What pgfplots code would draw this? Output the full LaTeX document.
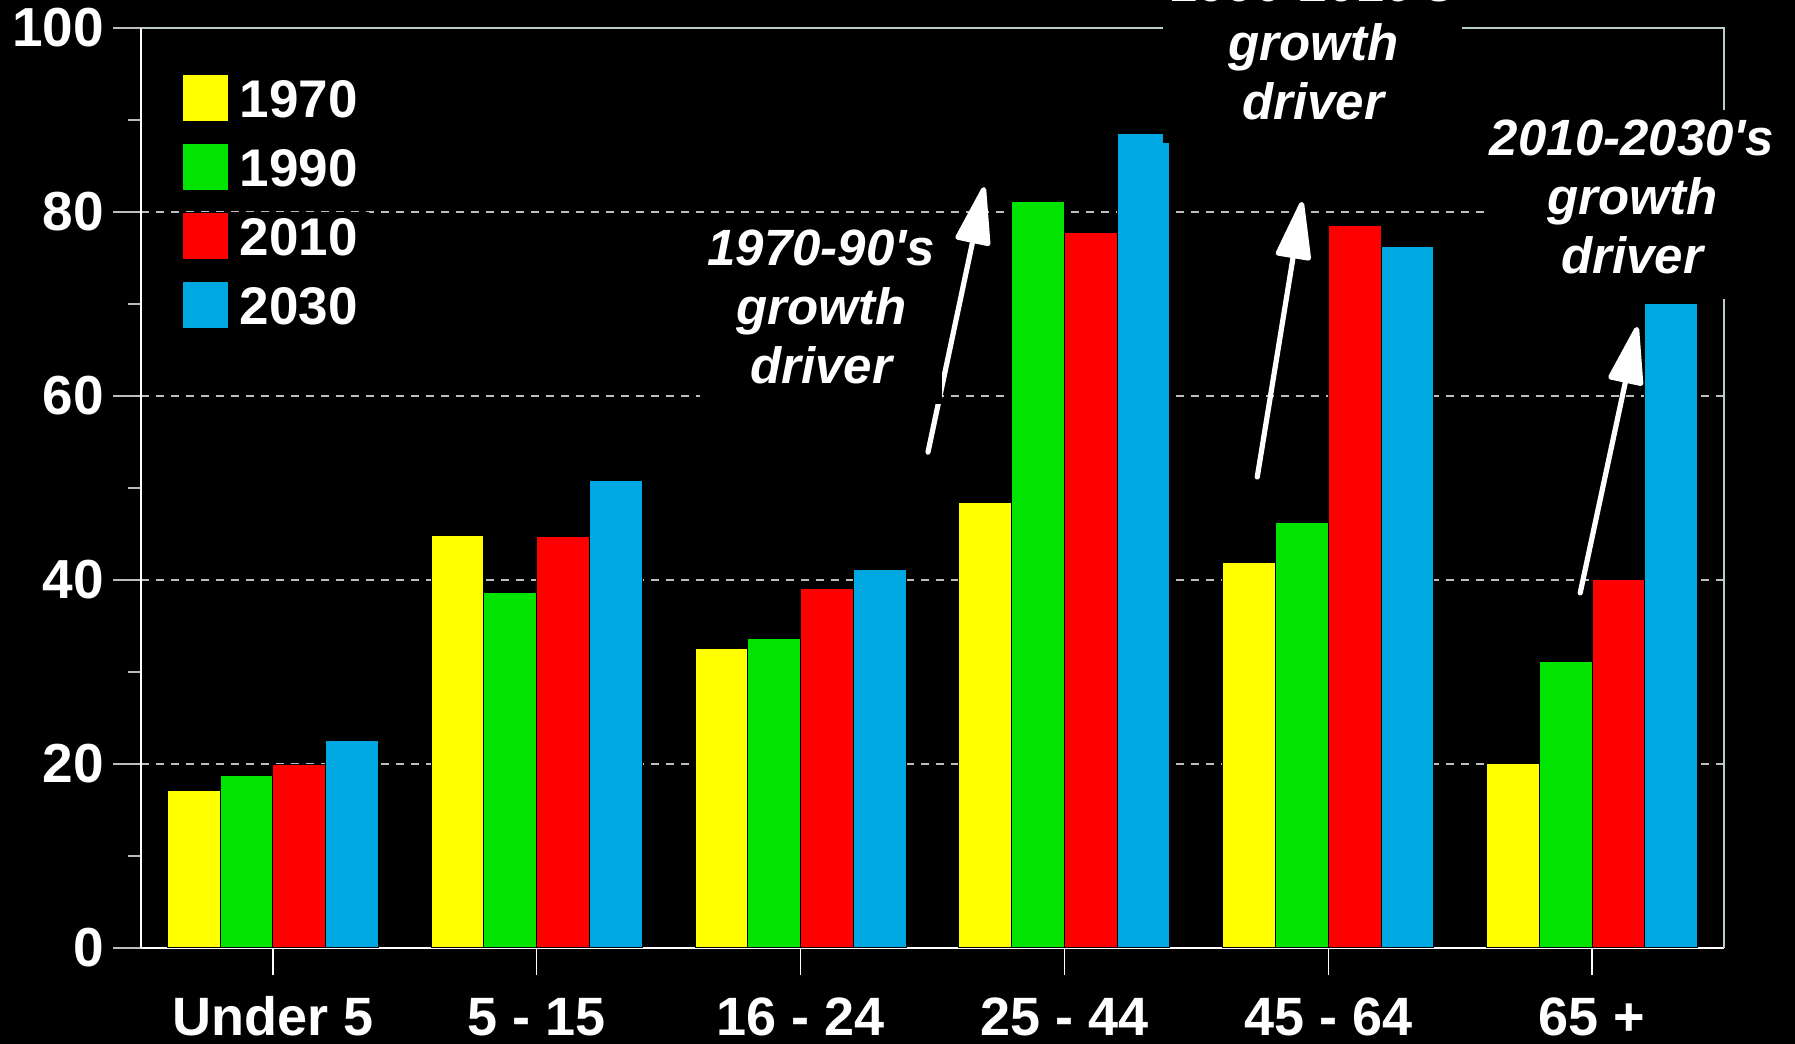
\documentclass[border=0pt]{standalone}
\usepackage{fontspec}
\setmainfont{Liberation Sans}
\usepackage{pgfplots}
\pgfplotsset{compat=1.18}
\usepackage{pgfplotstable}
\usetikzlibrary{arrows.meta}

\definecolor{barYellow}{HTML}{FFFF00}
\definecolor{barGreen}{HTML}{00E400}
\definecolor{barRed}{HTML}{FF0000}
\definecolor{barBlue}{HTML}{00A8E2}
\definecolor{gridGray}{HTML}{BDBDBD}
\definecolor{frameGray}{HTML}{B8CCCC}

% population by age group (millions)
\pgfplotstableread{
idx y1970 y1990 y2010 y2030
0 17.1 18.8 19.9 22.5
1 44.8 38.6 44.7 50.8
2 32.5 33.6 39.1 41.1
3 48.4 81.1 77.8 88.5
4 41.9 46.2 78.5 76.3
5 20.0 31.1 40.0 70.1
}\agegroups

\newcommand{\lbl}{\fontsize{26.5}{30}\selectfont\bfseries}
\newcommand{\ylbl}{\fontsize{27.5}{30}\selectfont\bfseries}
\newcommand{\xlbl}{\fontsize{27}{30}\selectfont\bfseries}
\newcommand{\note}{\fontsize{25.5}{29.5}\selectfont\bfseries\itshape}

\begin{document}
\begin{tikzpicture}
\fill[black] (-70.5pt,-48pt) rectangle (827pt,474pt);
\begin{axis}[
  at={(0pt,0pt)}, anchor=south west,
  scale only axis, width=791.5pt, height=460pt,
  xmin=-0.5, xmax=5.5, ymin=0, ymax=100,
  ybar=0pt, bar width=26.38pt,
  axis lines=left, axis line style={-, white, line width=0.7pt},
  clip=false,
  xtick={0,...,5},
  xticklabels={Under 5, 5 - 15, 16 - 24, 25 - 44, 45 - 64, 65 +},
  ytick={0,20,...,100}, minor ytick={10,30,...,90},
  tick align=outside, major tick length=13.75pt, minor tick length=6.5pt,
  x tick style={white, line width=0.6pt},
  y tick style={gridGray, line width=0.6pt},
  ymajorgrids, major grid style={gridGray, line width=0.8pt, dash pattern=on 4pt off 3.5pt},
  /pgf/number format/assume math mode=true,
  xticklabel style={font=\xlbl, text=white, anchor=base, yshift=-30pt},
  yticklabel style={font=\ylbl, text=white, anchor=east, inner sep=0pt, xshift=-4.5pt},
  legend style={at={(0,1)}, anchor=north west, xshift=20.5pt, yshift=-23pt,
    draw=none, fill=none, inner sep=0pt, outer sep=0pt, row sep=10.5pt, column sep=0pt,
    nodes={fill=black, text=white, font=\lbl, inner xsep=5.5pt, inner ysep=0pt,
      text height=21.5pt, text depth=2pt}},
  legend cell align=left,
  legend image code/.code={\draw[#1, line width=0.5pt] (0pt,-11.75pt) rectangle (23pt,11.75pt);},
]
\addplot[fill=barYellow, draw=black, line width=0.5pt] table[x=idx, y=y1970] {\agegroups};
\addplot[fill=barGreen, draw=black, line width=0.5pt] table[x=idx, y=y1990] {\agegroups};
\addplot[fill=barRed, draw=black, line width=0.5pt] table[x=idx, y=y2010] {\agegroups};
\addplot[fill=barBlue, draw=black, line width=0.5pt] table[x=idx, y=y2030] {\agegroups};
\legend{1970,1990,2010,2030}

% frame on the top and right
\draw[frameGray, line width=0.6pt] (rel axis cs:0,1) -- (rel axis cs:1,1) -- (rel axis cs:1,0);

% growth arrows
\draw[white, line width=2.6pt, line cap=round, -{Triangle[length=32pt, width=18pt, round]}]
  (axis cs:2.483,53.9) -- (axis cs:2.696,82.7);
\draw[white, line width=2.6pt, line cap=round, -{Triangle[length=32pt, width=18pt, round]}]
  (axis cs:3.731,51.2) -- (axis cs:3.901,81.1);
\draw[white, line width=2.6pt, line cap=round, -{Triangle[length=32pt, width=18pt, round]}]
  (axis cs:4.955,38.6) -- (axis cs:5.171,67.5);

% text panels
\fill[black] (axis cs:1.619,59.13) rectangle (axis cs:2.536,79.13);
\fill[black] (axis cs:3.374,87.53) rectangle (axis cs:4.508,104);
\fill[black] (axis cs:4.595,70.54) rectangle (axis cs:5.77,91.09);

\node[white, font=\note, align=center] at (axis cs:2.078,69.64)
  {1970-90\textquotesingle s\\growth\\driver};
\node[white, font=\note, align=center] at (axis cs:3.943,98.34)
  {1990-2010\textquotesingle s\\growth\\driver};
\node[white, font=\note, align=center] at (axis cs:5.152,81.6)
  {2010-2030\textquotesingle s\\growth\\driver};
\end{axis}
\pgfresetboundingbox
\path[use as bounding box] (-70.5pt,-48pt) rectangle (827pt,474pt);
\end{tikzpicture}
\end{document}
